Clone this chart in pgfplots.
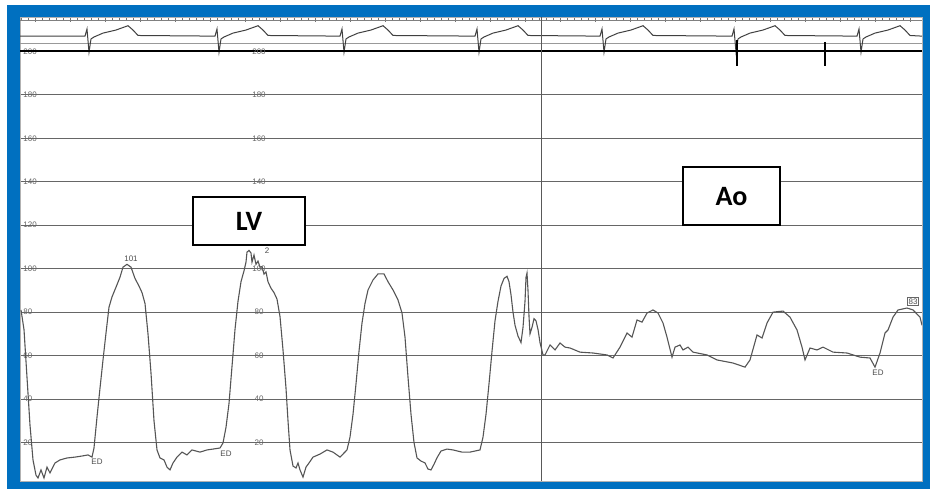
\documentclass[border=0pt]{standalone}
\usepackage{fontspec}
\setmainfont{Carlito}
\newfontfamily\lab{Liberation Sans}
\usepackage{pgfplots}
\pgfplotsset{compat=1.18}
\definecolor{frameblue}{HTML}{0070C0}
\definecolor{trace}{HTML}{555555}

\pgfplotstableread{
x p
21 81.0
24 72
27 50
30 28
33 12
36 5
38 3.7
41 7.4
44 3.7
47 8.7
50 6.0
55 10.6
60 12.0
67 12.9
75 13.3
82 13.8
88 14.3
92 13.3
94 17.5
97 31.7
100 45
103 58
106 70.4
109 82.3
112 87.0
116 91.5
120 96.1
123 100.7
127 102.0
131 100.7
135 95.5
139 92.0
142 89.0
145 84.0
148 70
151 52
154 30
157 16.6
160 12.9
164 12.0
167 8.7
170 7.4
173 10.6
177 13.3
182 15.6
187 14.3
192 16.6
200 15.6
207 16.6
213 17.0
220 17.5
223 19.8
226 27
229 38
232 55
235 72
238 85
241 94
244 99
246 103
247 107.6
249 108.4
251 107.2
252 103
254 106.3
256 102
258 103.5
260 100.7
262 101
264 97.5
266 98.5
268 94
271 91
274 89
277 86
280 78
283 62.6
286 45
288 30
290 16.6
293 9.2
296 8.3
298 10.6
300 7.4
303 4.1
306 8.7
309 10.6
313 13.3
320 14.7
327 16.6
333 15.6
340 13.3
347 16.6
350 22.5
353 33
356 47
359 62
362 75
365 84
368 90.2
373 94.8
378 97.6
384 97.6
388 94
393 90.2
398 85.6
402 79.6
405 68.5
408 50.1
411 33
414 20
417 12.9
421 11.5
425 10.6
428 7.8
431 7.4
434 10
437 13
441 16.1
447 17.0
453 16.6
462 15.6
470 15.6
480 16.6
483 22.5
486 33
489 47
492 62
495 76
498 85
501 92
504 95.5
507 96.5
509 94
511 88
513 80
515 74
518 69
521 66
523 73
525 85
526 96
527 98
528 90
529 78
530 70
532 73
534 77
536 76
538 72
540 66
543 60.3
}\lvdata

\pgfplotstableread{
x p
543 60.3
545 60.3
550 64.9
555 62.6
560 65.8
565 63.9
570 63.5
580 61.6
593 61.2
607 60.3
613 58.9
620 63.9
627 70.4
632 68.5
637 76.4
642 75.4
647 79.6
653 81.0
658 79.6
663 75.0
667 68.5
672 59.3
675 63.9
680 64.9
683 62.6
688 63.9
693 61.6
707 60.3
717 58.0
733 56.6
745 54.7
750 58.0
757 69.5
762 68.1
767 75.0
773 80.0
783 80.5
790 77.7
797 71.8
802 63.9
805 58.0
810 63.5
817 62.6
823 63.9
833 61.6
847 61.2
860 59.3
870 58.9
875 54.7
880 61.2
885 70.4
888 71.8
893 77.7
898 81.0
907 81.9
913 81.0
920 77.7
922 74
}\aodata

\pgfplotstableread{
x p
20 207
85 207
87 210.3
89 199.6
91 205.7
94 206.6
103 208.4
116 209.8
128 211.8
133 209.8
138 207.3
215 207
217 210.3
219 199.6
221 205.7
224 206.6
233 208.4
246 209.8
258 211.8
263 209.8
268 207.3
340 207
342 210.3
344 199.6
346 205.7
349 206.6
358 208.4
371 209.8
383 211.8
388 209.8
393 207.3
475 207
477 210.3
479 199.6
481 205.7
484 206.6
493 208.4
506 209.8
518 211.8
523 209.8
528 207.3
600 207
602 210.3
604 199.6
606 205.7
609 206.6
618 208.4
631 209.8
643 211.8
648 209.8
653 207.3
732 207
734 210.3
736 199.6
738 205.7
741 206.6
750 208.4
763 209.8
775 211.8
780 209.8
785 207.3
857 207
859 210.3
861 199.6
863 205.7
866 206.6
875 208.4
888 209.8
900 211.8
905 209.8
910 207.3
922 207
}\ecgdata

\begin{document}
\begin{tikzpicture}
\useasboundingbox (0,0) rectangle (465pt,-244.5pt);
\fill[white] (0,0) rectangle (465pt,-244.5pt);
\fill[frameblue] (3.5pt,-2.5pt) rectangle (465pt,-244.5pt);
\begin{axis}[
  at={(10pt,-240.5pt)}, anchor=south west,
  scale only axis, width=451pt, height=232pt,
  xmin=20, xmax=922, ymin=2.3, ymax=215.8,
  axis background/.style={fill=white},
  axis line style={draw=black!30, line width=0.3pt},
  xtick distance=35, minor x tick num=4,
  xtick pos=right, tick align=inside,
  xticklabels={},
  major tick length=2.5pt, minor tick length=1.5pt,
  x tick style={black!55, line width=0.4pt},
  ytick={20,40,...,200},
  ytick pos=left,
  y tick style={draw=none},
  ymajorgrids,
  major grid style={black!60, line width=0.5pt},
  /pgf/number format/assume math mode=true,
  yticklabel style={anchor=west, font=\lab\fontsize{4}{4}\selectfont, text=black!60, inner sep=1.5pt},
  clip=true,
]
% time ruler and ECG strip
\addplot[black!50, line width=0.4pt] coordinates {(20,214.4) (922,214.4)};
\addplot[black!40, line width=0.4pt] coordinates {(20,203.8) (922,203.8)};
\addplot[black!75, line width=0.5pt] table[x=x, y=p] {\ecgdata};
\addplot[black, line width=1pt] coordinates {(20,200) (922,200)};
% scale bar
\addplot[black, line width=0.8pt] coordinates {(737,205.2) (737,193.2)};
\addplot[black, line width=1.1pt] coordinates {(737,200) (825,200)};
\addplot[black, line width=0.8pt] coordinates {(825,204.3) (825,193.2)};
% separator
\addplot[black!65, line width=0.5pt] coordinates {(541,2.3) (541,215.8)};
% pressure traces
\addplot[trace, line width=0.55pt] table[x=x, y=p] {\lvdata};
\addplot[trace, line width=0.55pt] table[x=x, y=p] {\aodata};
% second column of scale labels (the one at 120 lies under the LV box)
\foreach \v in {20,40,60,80,100,140,160,180,200} {
  \edef\tmp{\noexpand\node[font=\noexpand\lab\noexpand\fontsize{4}{4}\noexpand\selectfont, text=black!60, inner sep=0pt] at (axis cs:259,\v) {\v};}
  \tmp
}
% small annotations
\node[font=\lab\fontsize{4}{4}\selectfont, text=black!70, inner sep=0pt] at (axis cs:131,104.5) {101};
\node[font=\lab\fontsize{4}{4}\selectfont, text=black!70, inner sep=0pt] at (axis cs:97,11) {ED};
\node[font=\lab\fontsize{4}{4}\selectfont, text=black!70, inner sep=0pt] at (axis cs:226,15) {ED};
\node[font=\lab\fontsize{4}{4}\selectfont, text=black!70, inner sep=0pt] at (axis cs:267,108.3) {2};
\node[font=\lab\fontsize{4}{4}\selectfont, text=black!70, inner sep=0pt] at (axis cs:878,52) {ED};
\node[draw=black!60, line width=0.3pt, font=\lab\fontsize{4}{4}\selectfont, text=black!70, inner sep=0.6pt] at (axis cs:913,85) {83};
% labels
\node[draw=black, fill=white, line width=1pt, minimum width=56pt, minimum height=24pt, inner sep=0pt, font=\bfseries\fontsize{14}{14}\selectfont] at (axis cs:249,121.9) {LV};
\node[draw=black, fill=white, line width=1pt, minimum width=48.5pt, minimum height=29pt, inner sep=0pt, font=\bfseries\fontsize{14}{14}\selectfont] at (axis cs:731.5,133.4) {Ao};
\end{axis}
\end{tikzpicture}
\end{document}
